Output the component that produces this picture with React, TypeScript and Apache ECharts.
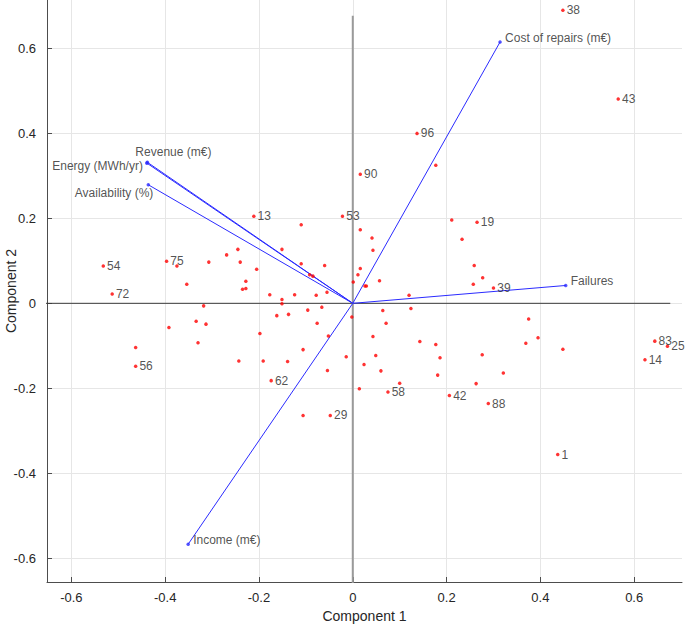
import React, { useEffect, useRef } from 'react';
import * as echarts from 'echarts';

// Axis ticks
const xTicks = [-0.6, -0.4, -0.2, 0, 0.2, 0.4, 0.6];
const yTicks = [-0.6, -0.4, -0.2, 0, 0.2, 0.4, 0.6];

// Variable loadings (vectors)
const variableNames = ['Revenue (m€)', 'Energy (MWh/yr)', 'Availability (%)', 'Cost of repairs (m€)', 'Failures', 'Income (m€)'];
const loadingPC1 = [-0.438, -0.439, -0.436, 0.314, 0.454, -0.351];
const loadingPC2 = [0.332, 0.330, 0.279, 0.615, 0.042, -0.567];

// Labelled observations
const labeledNames = ['1', '13', '14', '19', '25', '29', '38', '39', '42', '43', '53', '54', '56', '58', '62', '72', '75', '83', '88', '90', '96'];
const labeledPC1 = [0.437, -0.211, 0.623, 0.265, 0.671, -0.048, 0.448, 0.300, 0.206, 0.566, -0.022, -0.532, -0.463, 0.075, -0.174, -0.513, -0.397, 0.644, 0.289, 0.016, 0.137];
const labeledPC2 = [-0.356, 0.205, -0.133, 0.191, -0.101, -0.264, 0.690, 0.036, -0.217, 0.481, 0.205, 0.088, -0.148, -0.209, -0.182, 0.022, 0.099, -0.089, -0.236, 0.304, 0.400];

// Unlabelled observations
const otherPC1 = [
  -0.375, -0.307, -0.269, -0.245, -0.240, -0.205, -0.228, -0.235, -0.228, -0.354,
  -0.151, -0.110, -0.110, -0.060, -0.092, -0.085, -0.177, -0.151, -0.151, -0.124,
  -0.078, -0.055, -0.318, -0.066, -0.096, -0.162, -0.137, -0.392, -0.334, -0.313,
  -0.330, -0.463, -0.198, -0.076, -0.052, -0.106, -0.243, -0.191, -0.139, -0.014,
  -0.054, -0.106,
  0.177, 0.211, 0.016, 0.041, 0.043, 0.233, 0.259, 0.277, 0.257, 0.016,
  0.011, 0.001, 0.026, 0.029, 0.057, 0.120, 0.064, 0.124, -0.002, 0.375,
  0.071, 0.043, 0.143, 0.177, 0.369, 0.395, 0.448, 0.049, 0.186, 0.276,
  0.024, 0.060, 0.181, 0.321, 0.100, 0.263, 0.014,
];
const otherPC2 = [
  0.088, 0.097, 0.114, 0.127, 0.097, 0.080, 0.052, 0.033, 0.035, 0.045,
  0.127, 0.185, 0.093, 0.089, 0.067, 0.064, 0.020, 0.009, -0.001, 0.020,
  0.019, 0.026, -0.006, -0.009, -0.016, -0.029, -0.026, -0.057, -0.042, -0.049,
  -0.093, -0.104, -0.071, -0.047, -0.077, -0.109, -0.136, -0.136, -0.137, -0.126,
  -0.158, -0.264,
  0.325, 0.196, 0.173, 0.154, 0.125, 0.151, 0.089, 0.060, 0.045, 0.082,
  0.067, 0.050, 0.041, 0.041, 0.053, 0.019, -0.017, -0.012, -0.032, -0.037,
  -0.047, -0.078, -0.090, -0.097, -0.094, -0.081, -0.108, -0.123, -0.128, -0.121,
  -0.144, -0.159, -0.169, -0.164, -0.188, -0.189, -0.201,
];

const axisExtent = 0.677;

const FONT = '"Liberation Sans", Arial, Helvetica, sans-serif';
const TEXT = '#262626';
const AXIS = '#4d4d4d';
const BLUE = '#2b2bff';
const RED = '#ff0000';

// label placement (style only)
const vectorLabelStyle: Record<string, { align: string; offset: number[] }> = {
  'Revenue (m€)': { align: 'left', offset: [-12, -10] },
  'Energy (MWh/yr)': { align: 'right', offset: [-4, 3] },
  'Availability (%)': { align: 'right', offset: [5, 8] },
  'Cost of repairs (m€)': { align: 'left', offset: [5, -4.5] },
  'Failures': { align: 'left', offset: [5, -4.5] },
  'Income (m€)': { align: 'left', offset: [5, -4.5] },
};

function buildOption() {
  const vectorLines = variableNames.map((name, i) => ({
    type: 'line',
    name,
    data: [[0, 0], [loadingPC1[i], loadingPC2[i]]],
    symbol: 'none',
    silent: true,
    lineStyle: { color: BLUE, width: 1 },
    z: 3,
  }));

  const vectorEnds = {
    type: 'scatter',
    symbolSize: 3.5,
    itemStyle: { color: BLUE },
    z: 4,
    data: variableNames.map((name, i) => ({
      name,
      value: [loadingPC1[i], loadingPC2[i]],
      label: {
        show: true,
        position: 'inside',
        align: vectorLabelStyle[name].align,
        verticalAlign: 'middle',
        offset: vectorLabelStyle[name].offset,
        formatter: name,
        color: TEXT,
        fontSize: 12,
        fontFamily: FONT,
      },
    })),
  };

  const others = {
    type: 'scatter',
    symbolSize: 3.5,
    itemStyle: { color: RED },
    z: 5,
    data: otherPC1.map((x, i) => [x, otherPC2[i]]),
  };

  const labeled = {
    type: 'scatter',
    symbolSize: 3.5,
    itemStyle: { color: RED },
    z: 5,
    label: {
      show: true,
      position: 'right',
      distance: 2,
      formatter: (p: any) => p.name,
      color: TEXT,
      fontSize: 12,
      fontFamily: FONT,
    },
    data: labeledNames.map((name, i) => ({ name, value: [labeledPC1[i], labeledPC2[i]] })),
  };

  return {
    animation: false,
    backgroundColor: '#ffffff',
    grid: { left: 47, right: 3, top: 0, bottom: 44, outerBoundsMode: 'none', containLabel: false },
    xAxis: {
      type: 'value',
      min: -0.652,
      max: 0.702,
      name: 'Component 1',
      nameLocation: 'middle',
      nameGap: 27,
      nameMoveOverlap: false,
      nameTextStyle: { color: TEXT, fontSize: 14, fontFamily: FONT },
      axisLine: { show: true, onZero: false, lineStyle: { color: AXIS, width: 1 } },
      axisTick: { show: true, inside: true, length: 5, customValues: xTicks, lineStyle: { color: AXIS } },
      axisLabel: { customValues: xTicks, color: TEXT, fontSize: 13, fontFamily: FONT, margin: 9 },
      splitLine: { show: true, lineStyle: { color: '#e6e6e6', width: 1 } },
    },
    yAxis: {
      type: 'value',
      min: -0.656,
      max: 0.714,
      name: 'Component 2',
      nameLocation: 'middle',
      nameGap: 29,
      nameMoveOverlap: false,
      nameTextStyle: { color: TEXT, fontSize: 14, fontFamily: FONT },
      axisLine: { show: true, onZero: false, lineStyle: { color: AXIS, width: 1 } },
      axisTick: { show: true, inside: true, length: 5, customValues: yTicks, lineStyle: { color: AXIS } },
      axisLabel: { customValues: yTicks, color: TEXT, fontSize: 13, fontFamily: FONT, margin: 11 },
      splitLine: { show: true, lineStyle: { color: '#e6e6e6', width: 1 } },
    },
    series: [
      {
        type: 'line',
        data: [[-axisExtent, 0], [axisExtent, 0]],
        symbol: 'none',
        silent: true,
        lineStyle: { color: '#3a3a3a', width: 1 },
        z: 2,
      },
      {
        type: 'line',
        data: [[0, -axisExtent], [0, axisExtent]],
        symbol: 'none',
        silent: true,
        lineStyle: { color: '#9a9a9a', width: 2 },
        z: 2,
      },
      ...vectorLines,
      vectorEnds,
      others,
      labeled,
    ],
  };
}

export default function App() {
  const ref = useRef<HTMLDivElement>(null);
  useEffect(() => {
    if (!ref.current) return;
    const chart = echarts.init(ref.current, null, { renderer: 'svg' });
    chart.setOption(buildOption() as any);
    return () => chart.dispose();
  }, []);
  return (
    <div
      ref={ref}
      style={{ position: 'absolute', left: 0, top: 0, width: 685, height: 626, background: '#fff' }}
    />
  );
}
